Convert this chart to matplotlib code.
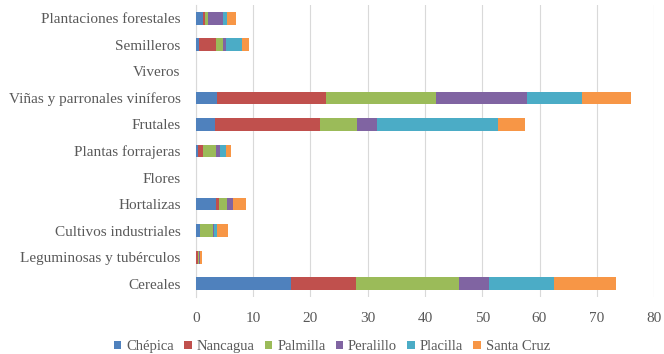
import matplotlib.pyplot as plt
import numpy as np

categories = ["Cereales", "Leguminosas y tubérculos", "Cultivos industriales",
              "Hortalizas", "Flores", "Plantas forrajeras", "Frutales",
              "Viñas y parronales viníferos", "Viveros", "Semilleros",
              "Plantaciones forestales"]

chepica = [16.6, 0.1, 0.7, 3.6, 0, 0.3, 3.4, 3.7, 0, 0.6, 1.3]
nancagua = [11.3, 0.3, 0.1, 0.5, 0, 1.0, 18.2, 19.1, 0, 2.9, 0.3]
palmilla = [18.1, 0.2, 2.2, 1.3, 0, 2.2, 6.6, 19.1, 0, 1.2, 0.6]
peralillo = [5.1, 0.1, 0.2, 1.0, 0, 0.7, 3.4, 15.9, 0, 0.5, 2.6]
placilla = [11.5, 0.05, 0.5, 0.1, 0, 1.0, 21.1, 9.6, 0, 2.9, 0.7]
santa_cruz = [10.7, 0.3, 1.9, 2.2, 0, 0.9, 4.8, 8.6, 0, 1.2, 1.5]

series = ["Chépica", "Nancagua", "Palmilla", "Peralillo", "Placilla", "Santa Cruz"]
colors = ["#4F81BD", "#C0504D", "#9BBB59", "#8064A2", "#4BACC6", "#F79646"]

plt.rcParams['font.family'] = ['Liberation Serif', 'DejaVu Serif']

fig = plt.figure(figsize=(6.64, 3.54), dpi=100)
ax = fig.add_axes([0.295, 0.161, 0.69, 0.825])

y = np.arange(len(categories))
left = np.zeros(len(categories))
for name, vals, c in zip(series, [chepica, nancagua, palmilla, peralillo, placilla, santa_cruz], colors):
    ax.barh(y, vals, left=left, height=0.48, color=c, label=name, zorder=3)
    left += np.array(vals)

ax.set_xlim(0, 80)
ax.set_ylim(-0.5, len(categories) - 0.5)
ax.set_xticks(range(0, 81, 10))
ax.set_yticks(y)
ax.set_yticklabels(categories)
ax.grid(axis='x', color='#D9D9D9', linewidth=0.8, zorder=0)
for s in ['top', 'right', 'bottom']:
    ax.spines[s].set_visible(False)
ax.spines['left'].set_color('#D9D9D9')
ax.tick_params(axis='both', length=0, labelsize=11, colors='#595959')
ax.tick_params(axis='x', pad=11)
ax.tick_params(axis='y', pad=11)

fig.legend(loc='lower center', ncol=6, frameon=False, fontsize=10.5,
           bbox_to_anchor=(0.5, -0.035), handlelength=0.5, handleheight=0.5,
           handletextpad=0.35, columnspacing=0.7, labelcolor='#595959')

fig.savefig("out.png", dpi=100)
